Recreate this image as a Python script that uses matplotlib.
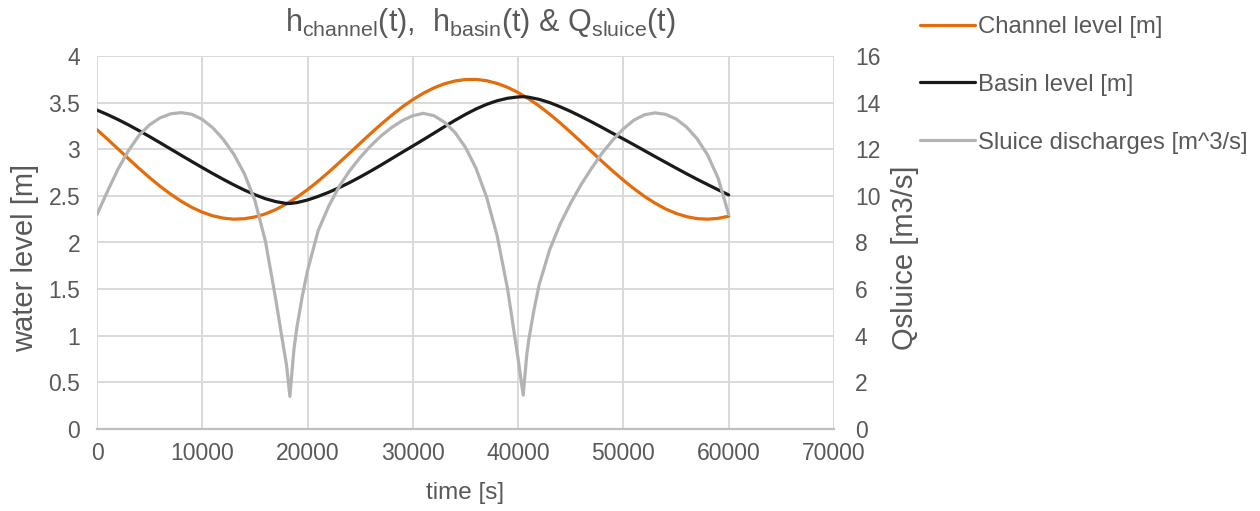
import matplotlib
matplotlib.use('Agg')
import matplotlib.pyplot as plt
from matplotlib.ticker import FuncFormatter

plt.rcParams['font.family'] = ['Liberation Sans', 'DejaVu Sans']
plt.rcParams['mathtext.fontset'] = 'custom'
plt.rcParams['mathtext.rm'] = 'Liberation Sans'
plt.rcParams['mathtext.it'] = 'Liberation Sans:italic'

# channel level (tide), every 1000 s
channel_t = [0, 1000, 2000, 3000, 4000, 5000, 6000, 7000, 8000, 9000,
             10000, 11000, 12000, 13000, 14000, 15000, 16000, 17000, 18000, 19000,
             20000, 21000, 22000, 23000, 24000, 25000, 26000, 27000, 28000, 29000,
             30000, 31000, 32000, 33000, 34000, 35000, 36000, 37000, 38000, 39000,
             40000, 41000, 42000, 43000, 44000, 45000, 46000, 47000, 48000, 49000,
             50000, 51000, 52000, 53000, 54000, 55000, 56000, 57000, 58000, 59000,
             60000]
channel_h = [3.21, 3.108, 3.003, 2.897, 2.794, 2.695, 2.602, 2.518, 2.442, 2.377,
             2.325, 2.286, 2.261, 2.25, 2.255, 2.274, 2.307, 2.354, 2.414, 2.486,
             2.567, 2.657, 2.754, 2.856, 2.96, 3.065, 3.169, 3.27, 3.365, 3.454,
             3.533, 3.601, 3.658, 3.702, 3.732, 3.748, 3.749, 3.735, 3.706, 3.664,
             3.608, 3.541, 3.463, 3.376, 3.281, 3.181, 3.077, 2.972, 2.867, 2.765,
             2.668, 2.577, 2.494, 2.422, 2.36, 2.312, 2.277, 2.256, 2.25, 2.259,
             2.282]

# basin level
basin_t = [0, 1000, 2000, 3000, 4000, 5000, 6000, 7000, 8000, 9000,
           10000, 11000, 12000, 13000, 14000, 15000, 16000, 17000, 18000, 18300,
           19000, 20000, 21000, 22000, 23000, 24000, 25000, 26000, 27000, 28000,
           29000, 30000, 31000, 32000, 33000, 34000, 35000, 36000, 37000, 38000,
           39000, 40000, 40500, 41000, 42000, 43000, 44000, 45000, 46000, 47000,
           48000, 49000, 50000, 51000, 52000, 53000, 54000, 55000, 56000, 57000,
           58000, 59000, 60000]
basin_h = [3.42, 3.3715, 3.3182, 3.2607, 3.1991, 3.1353, 3.0691, 3.0023, 2.935, 2.8687,
           2.8032, 2.739, 2.677, 2.6177, 2.5621, 2.5123, 2.4694, 2.4379, 2.4188, 2.418,
           2.428, 2.456, 2.494, 2.538, 2.588, 2.643, 2.703, 2.766, 2.832, 2.9,
           2.968, 3.035, 3.103, 3.172, 3.242, 3.31, 3.374, 3.432, 3.481, 3.52,
           3.547, 3.561, 3.564, 3.558, 3.535, 3.5, 3.455, 3.405, 3.35, 3.292,
           3.232, 3.17, 3.11, 3.048, 2.985, 2.922, 2.86, 2.798, 2.737, 2.678,
           2.621, 2.565, 2.51]

# sluice discharge (secondary axis)
sluice_t = [0, 1000, 2000, 3000, 4000, 5000, 6000, 7000, 8000, 9000,
            10000, 11000, 12000, 13000, 14000, 15000, 16000, 17000, 17500, 18000,
            18320, 18700, 19000, 19500, 20000, 21000, 22000, 23000, 24000, 25000,
            26000, 27000, 28000, 29000, 30000, 31000, 32000, 33000, 34000, 35000,
            36000, 37000, 38000, 39000, 39500, 40000, 40480, 40800, 41000, 41500,
            42000, 43000, 44000, 45000, 46000, 47000, 48000, 49000, 50000, 51000,
            52000, 53000, 54000, 55000, 56000, 57000, 58000, 59000, 60000]
sluice_q = [9.2, 10.2, 11.15, 11.95, 12.6, 13.05, 13.35, 13.52, 13.57, 13.5,
            13.28, 12.92, 12.42, 11.78, 10.95, 9.8, 8.05, 5.5, 4.1, 2.75,
            1.4, 3.4, 4.4, 5.7, 6.8, 8.5, 9.55, 10.4, 11.08, 11.65,
            12.15, 12.58, 12.94, 13.23, 13.44, 13.54, 13.44, 13.16, 12.72, 12.08,
            11.18, 9.95, 8.3, 6.0, 4.5, 3.0, 1.45, 3.1, 3.8, 5.1,
            6.2, 7.7, 8.8, 9.7, 10.5, 11.2, 11.85, 12.4, 12.88, 13.25,
            13.48, 13.56, 13.5, 13.3, 12.95, 12.45, 11.75, 10.75, 9.2]

x_ticks = [0, 10000, 20000, 30000, 40000, 50000, 60000, 70000]
left_ticks = [0, 0.5, 1, 1.5, 2, 2.5, 3, 3.5, 4]
right_ticks = [0, 2, 4, 6, 8, 10, 12, 14, 16]

TXT = '#595959'
GRID = '#d9d9d9'

W, H = 1260, 511
fig = plt.figure(figsize=(W / 100, H / 100), dpi=100)
ax = fig.add_axes([97 / W, 1 - 429 / H, (834 - 97) / W, (429 - 56) / H])
ax2 = ax.twinx()

l1, = ax.plot(channel_t, channel_h, color='#e46c0a', lw=2.3, solid_capstyle='round')
l2, = ax.plot(basin_t, basin_h, color='#1a1a1a', lw=2.3, solid_capstyle='round')
l3, = ax2.plot(sluice_t, sluice_q, color='#b3b3b3', lw=2.3, solid_capstyle='round')

ax.set_xlim(0, 70000)
ax.set_ylim(0, 4)
ax2.set_ylim(0, 16)
ax.set_xticks(x_ticks)
ax.set_yticks(left_ticks)
ax2.set_yticks(right_ticks)
ax.yaxis.set_major_formatter(FuncFormatter(lambda v, p: '%g' % v))
ax2.yaxis.set_major_formatter(FuncFormatter(lambda v, p: '%g' % v))

ax.set_axisbelow(True)
ax.grid(True, color=GRID, lw=1.4)
for a in (ax, ax2):
    for s in a.spines.values():
        s.set_visible(False)
ax.spines['bottom'].set_visible(True)
ax.spines['bottom'].set_color('#bfbfbf')
ax.spines['bottom'].set_linewidth(1.6)

ax.tick_params(axis='x', length=0, pad=9, labelsize=16.5, colors=TXT)
ax.tick_params(axis='y', length=0, pad=12, labelsize=16.5, colors=TXT)
ax2.tick_params(axis='y', length=0, pad=15, labelsize=16.5, colors=TXT)

ax.set_xlabel('time [s]', fontsize=17.5, color=TXT)
ax.xaxis.set_label_coords(0.5, (429 - 482) / (429 - 56))
ax.set_ylabel('water level [m]', fontsize=21, color=TXT)
ax.yaxis.label.set_ha('center')
ax.yaxis.label.set_va('center')
ax.yaxis.set_label_coords((25 - 97) / (834 - 97), (429 - 258) / (429 - 56))
ax2.set_ylabel('Qsluice [m3/s]', fontsize=21, color=TXT)
ax2.yaxis.label.set_ha('center')
ax2.yaxis.label.set_va('center')
ax2.yaxis.set_label_coords((905 - 97) / (834 - 97), (429 - 258) / (429 - 56))

fig.text(480 / W, 1 - 31 / H,
         r'h$_{\mathrm{channel}}$(t),  h$_{\mathrm{basin}}$(t) & Q$_{\mathrm{sluice}}$(t)',
         ha='center', va='baseline', fontsize=22, color=TXT)

fig.legend([l1, l2, l3],
           ['Channel level [m]', 'Basin level [m]', 'Sluice discharges [m^3/s]'],
           loc='upper left', bbox_to_anchor=(920 / W, 1 - 16 / H),
           frameon=False, fontsize=17.2, labelcolor=TXT,
           borderpad=0, borderaxespad=0, handlelength=2.3,
           handletextpad=0.12, labelspacing=1.5)

fig.savefig('out.png', dpi=100)
